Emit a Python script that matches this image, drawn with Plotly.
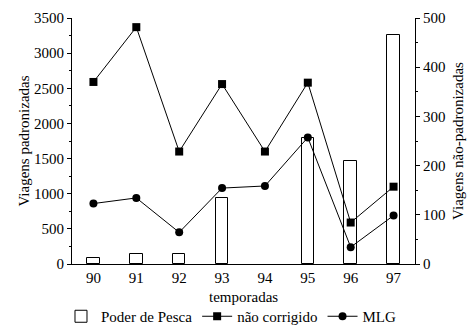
import plotly.graph_objects as go

temporadas = [90, 91, 92, 93, 94, 95, 96, 97]
poder_pesca = [13, 21, 20, 134, None, 256, 209, 465]
nao_corrigido = [2590, 3370, 1600, 2560, 1600, 2580, 590, 1100]
mlg = [860, 940, 450, 1080, 1110, 1800, 240, 690]

FONT = "Times New Roman"
FS = 15

fig = go.Figure()
fig.add_trace(go.Bar(x=temporadas, y=poder_pesca, name="Poder de Pesca",
                     marker=dict(color="white", line=dict(color="black", width=1)),
                     width=0.29, yaxis="y"))
fig.add_trace(go.Scatter(x=temporadas, y=nao_corrigido, name="não corrigido",
                         mode="lines+markers", yaxis="y2",
                         line=dict(color="black", width=1),
                         marker=dict(symbol="square", size=8, color="black")))
fig.add_trace(go.Scatter(x=temporadas, y=mlg, name="MLG",
                         mode="lines+markers", yaxis="y2",
                         line=dict(color="black", width=1),
                         marker=dict(symbol="circle", size=8, color="black")))

bounds = [89.5 + i for i in range(9)]
xr = [89.5, 97.5]
tickfont = dict(family=FONT, size=FS, color="black")
titlefont = dict(family=FONT, size=FS, color="black")

fig.update_layout(
    template="none",
    width=469, height=333,
    margin=dict(l=72, r=54, t=18, b=69),
    paper_bgcolor="white", plot_bgcolor="white",
    font=dict(family=FONT, size=FS, color="black"),
    showlegend=True,
    bargap=0,
    legend=dict(orientation="h", x=0.465, xanchor="center", yref="container", y=-0.01, yanchor="bottom",
                font=dict(family=FONT, size=FS, color="black"),
                itemwidth=30, tracegroupgap=0, bgcolor="rgba(0,0,0,0)"),
    xaxis=dict(range=xr, tickvals=temporadas, ticktext=[str(t) for t in temporadas],
               ticks="", showline=True, linecolor="black", linewidth=1, automargin=False,
               showgrid=False, zeroline=False, tickfont=tickfont),
    xaxis2=dict(range=xr, overlaying="x", anchor="y", tickvals=bounds, ticks="outside",
                ticklen=4, tickcolor="black", showticklabels=False, showgrid=False,
                zeroline=False, showline=False, automargin=False),
    xaxis3=dict(range=xr, overlaying="x", anchor="y", tickvals=bounds, ticks="inside",
                ticklen=4, tickcolor="black", showticklabels=False, showgrid=False,
                zeroline=False, showline=False, automargin=False),
    yaxis=dict(range=[0, 500], side="right", dtick=100, ticks="outside", ticklen=4,
               tickcolor="black", showline=True, linecolor="black", linewidth=1,
               showgrid=False, zeroline=False, tickfont=tickfont, automargin=False,
               minor=dict(dtick=50, ticks="outside", ticklen=2, tickcolor="black"),
               title=dict(text="Viagens não-padronizadas", font=titlefont)),
    yaxis3=dict(range=[0, 500], side="right", overlaying="y", anchor="x", dtick=100,
                ticks="inside", ticklen=4, tickcolor="black", showticklabels=False,
                showgrid=False, zeroline=False, showline=False, automargin=False,
                minor=dict(dtick=50, ticks="inside", ticklen=2, tickcolor="black")),
    yaxis2=dict(range=[0, 3500], side="left", overlaying="y", anchor="x", dtick=500,
                ticks="outside", ticklen=4, tickcolor="black", showline=True,
                linecolor="black", linewidth=1, showgrid=False, zeroline=False,
                tickfont=tickfont, automargin=False,
                minor=dict(dtick=250, ticks="outside", ticklen=2, tickcolor="black"),
                title=dict(text="Viagens padronizadas", font=titlefont)),
    yaxis4=dict(range=[0, 3500], side="left", overlaying="y", anchor="x", dtick=500,
                ticks="inside", ticklen=4, tickcolor="black", showticklabels=False,
                showgrid=False, zeroline=False, showline=False, automargin=False,
                minor=dict(dtick=250, ticks="inside", ticklen=2, tickcolor="black")),
    annotations=[dict(text="temporadas", xref="paper", yref="paper", x=0.5, y=-0.135,
                      xanchor="center", yanchor="middle", showarrow=False,
                      font=dict(family=FONT, size=FS, color="black"))],
)

post = ("var gd=document.getElementById('{plot_id}');"
        "if(gd){gd.querySelectorAll('text').forEach(function(t){"
        "t.style.fontFamily='\"Times New Roman\", \"Liberation Serif\", serif';});}")
fig.write_html("out.html", post_script=post)
